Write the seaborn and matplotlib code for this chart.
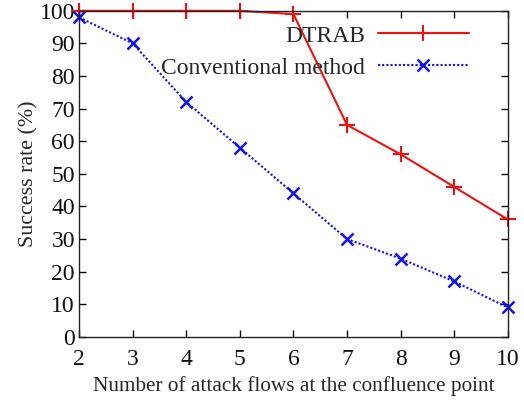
import matplotlib
matplotlib.use("Agg")
import matplotlib.pyplot as plt
import seaborn as sns
import pandas as pd

flows = [2, 3, 4, 5, 6, 7, 8, 9, 10]
dtrab = [100, 100, 100, 100, 99, 65, 56, 46, 36]
conventional = [98, 90, 72, 58, 44, 30, 24, 17, 9]
series_names = ["DTRAB", "Conventional method"]
x_label = "Number of attack flows at the confluence point"
y_label = "Success rate (%)"

sns.set_theme(style="ticks")
plt.rcParams['font.family'] = ['Liberation Serif', 'DejaVu Serif']

df = pd.DataFrame({"flows": flows * 2,
                   "rate": dtrab + conventional,
                   "method": [series_names[0]] * len(flows) + [series_names[1]] * len(flows)})

fig = plt.figure(figsize=(5.24, 4.01), dpi=100)
ax = fig.add_axes([0.151, 0.160, 0.818, 0.813])

red = "#ee1111"
blue = "#1111ee"
sns.lineplot(data=df[df.method == series_names[0]], x="flows", y="rate", ax=ax,
             color=red, linewidth=1.5, marker="+", markersize=12, markeredgewidth=1.5,
             markeredgecolor=red, markerfacecolor=red, clip_on=False,
             label=series_names[0])
sns.lineplot(data=df[df.method == series_names[1]], x="flows", y="rate", ax=ax,
             color=blue, linewidth=1.5, linestyle=(0, (1, 1)), marker="x", markersize=9,
             markeredgewidth=1.8, markeredgecolor=blue, markerfacecolor=blue, clip_on=False,
             label=series_names[1])

ax.set_xlim(2, 10)
ax.set_ylim(0, 100)
ax.set_xticks(flows)
ax.set_yticks(range(0, 101, 10))
ax.tick_params(direction="in", top=True, right=True, length=5, width=1,
               labelsize=17, colors="#111111")
ax.tick_params(axis="x", pad=9)
ax.tick_params(axis="y", pad=3)
for s in ax.spines.values():
    s.set_linewidth(1.0)
    s.set_color("#222222")
ax.set_xlabel(x_label, fontsize=15.3, labelpad=4)
ax.set_ylabel(y_label, fontsize=15.8, labelpad=1)

leg = ax.legend(loc="upper right", frameon=False, markerfirst=False, fontsize=17,
                handlelength=3.85, borderaxespad=0.2, bbox_to_anchor=(0.942, 1.0),
                labelspacing=0.45, handletextpad=0.55)
for t in leg.get_texts():
    t.set_ha("right")

fig.savefig("out.png", dpi=100)
